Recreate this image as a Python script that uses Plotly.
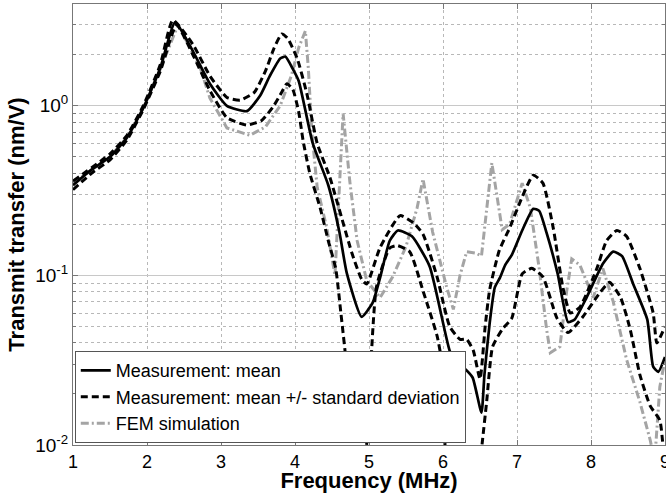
import plotly.graph_objects as go

# ---- data ----
f_mean = [1.0, 1.25, 1.5, 1.73, 1.95, 2.18, 2.38, 2.62, 2.85, 3.08, 3.35, 3.53, 3.66, 3.8, 3.87, 3.97,
          4.05, 4.24, 4.45, 4.6, 4.7, 4.9, 5.05, 5.15, 5.28, 5.39, 5.58, 5.82, 6.09, 6.2, 6.3, 6.4,
          6.52, 6.56, 6.63, 6.7, 6.77, 6.84, 6.93, 7.07, 7.22, 7.3, 7.4, 7.55, 7.69, 7.78, 7.94,
          8.16, 8.3, 8.42, 8.57, 8.76, 8.84, 8.91, 9.0]
mean = [0.34, 0.42, 0.5, 0.65, 0.97, 1.67, 3.1, 2.1, 1.35, 1.0, 0.93, 1.15, 1.5, 1.9, 1.95, 1.65,
        1.4, 0.6, 0.34, 0.18, 0.103, 0.057, 0.069, 0.097, 0.16, 0.184, 0.17, 0.113, 0.036, 0.029, 0.028, 0.025,
        0.0155, 0.026, 0.052, 0.085, 0.097, 0.115, 0.132, 0.184, 0.247, 0.24, 0.178, 0.102, 0.053, 0.055, 0.074,
        0.117, 0.138, 0.13, 0.089, 0.055, 0.029, 0.027, 0.033]

f_upper = [1.0, 1.5, 1.73, 1.95, 2.18, 2.35, 2.62, 2.85, 3.08, 3.26, 3.45, 3.6, 3.72, 3.82, 3.9, 4.03,
           4.16, 4.3, 4.47, 4.77, 4.9, 4.97, 5.15, 5.42, 5.6, 5.73, 5.92, 6.09, 6.23, 6.32, 6.41, 6.5,
           6.57, 6.63, 6.76, 6.9, 7.07, 7.22, 7.35, 7.49, 7.62, 7.72, 7.85, 8.08, 8.21, 8.35, 8.48,
           8.66, 8.84, 8.89, 9.0]
upper = [0.36, 0.52, 0.67, 1.0, 1.75, 3.2, 2.3, 1.5, 1.12, 1.08, 1.2, 1.6, 2.2, 2.65, 2.5, 1.9,
         1.18, 0.6, 0.38, 0.135, 0.095, 0.089, 0.146, 0.225, 0.204, 0.175, 0.098, 0.05, 0.042, 0.042, 0.036, 0.0245,
         0.05, 0.082, 0.14, 0.19, 0.29, 0.39, 0.35, 0.19, 0.085, 0.06, 0.065, 0.11, 0.16, 0.184, 0.17,
         0.11, 0.06, 0.04, 0.05]

f_lower = [1.0, 1.25, 1.5, 1.73, 1.95, 2.18, 2.4, 2.62, 2.85, 3.08, 3.35, 3.55, 3.7, 3.82, 3.89, 3.97,
           4.05, 4.11, 4.2, 4.34, 4.45, 4.55, 4.62, 4.7, 4.78, 4.9, 4.97, 5.1, 5.28, 5.38, 5.55, 5.73,
           5.92, 6.0, 6.1, 6.45, 6.53, 6.59, 6.67, 6.8, 6.93, 7.07, 7.2, 7.35, 7.54, 7.69, 7.89,
           8.12, 8.25, 8.4, 8.53, 8.66, 8.8, 8.93, 8.97, 9.0]
lower = [0.32, 0.4, 0.48, 0.63, 0.95, 1.6, 3.0, 2.0, 1.23, 0.85, 0.77, 0.82, 0.98, 1.2, 1.35, 1.25,
         0.92, 0.62, 0.4, 0.25, 0.16, 0.11, 0.06, 0.028, 0.005, 0.005, 0.0103, 0.085, 0.145, 0.15, 0.138, 0.081,
         0.044, 0.028, 0.005, 0.005, 0.0103, 0.018, 0.038, 0.048, 0.056, 0.102, 0.11, 0.098, 0.056, 0.046, 0.057,
         0.079, 0.091, 0.074, 0.048, 0.026, 0.017, 0.014, 0.0102, 0.007]

f_fem = [1.0, 1.5, 1.73, 1.95, 2.18, 2.42, 2.72, 2.85, 3.08, 3.39, 3.6, 3.8, 3.95, 4.05, 4.14, 4.18,
         4.23, 4.3, 4.43, 4.54, 4.65, 4.74, 4.84, 4.97, 5.15, 5.32, 5.5, 5.65, 5.73, 5.86, 6.05, 6.14,
         6.23, 6.32, 6.45, 6.52, 6.66, 6.8, 6.9, 7.07, 7.18, 7.3, 7.4, 7.45, 7.58, 7.67, 7.74, 7.85,
         8.03, 8.16, 8.3, 8.4, 8.48, 8.66, 8.8, 8.86, 8.93, 9.0]
fem = [0.35, 0.5, 0.65, 0.97, 1.65, 3.0, 1.67, 1.11, 0.74, 0.67, 0.75, 1.0, 1.5, 2.2, 2.76, 1.67,
       0.68, 0.33, 0.19, 0.1, 0.9, 0.36, 0.16, 0.093, 0.074, 0.098, 0.148, 0.25, 0.37, 0.18, 0.085, 0.063,
       0.1, 0.138, 0.135, 0.13, 0.46, 0.186, 0.2, 0.35, 0.25, 0.11, 0.048, 0.035, 0.038, 0.08, 0.125, 0.115,
       0.074, 0.11, 0.07, 0.045, 0.032, 0.018, 0.0107, 0.008, 0.022, 0.032]

x_ticks = [1, 2, 3, 4, 5, 6, 7, 8, 9]
y_ticks = [0.01, 0.1, 1]
y_ticktext = ["10<sup>-2</sup>", "10<sup>-1</sup>", "10<sup>0</sup>"]
y_minor = [m * d for d in (0.01, 0.1, 1) for m in range(2, 10)]

FONT = "Liberation Sans, Arial, sans-serif"

fig = go.Figure()
fig.add_trace(go.Scatter(x=f_fem, y=fem, mode="lines", name="FEM simulation",
                         line=dict(color="#a4a4a4", width=3, dash="8px,3px,2px,3px"),
                         legendrank=3))
fig.add_trace(go.Scatter(x=f_lower, y=lower, mode="lines", showlegend=False,
                         line=dict(color="black", width=3, dash="7px,4px", shape="spline", smoothing=0.5)))
fig.add_trace(go.Scatter(x=f_upper, y=upper, mode="lines", name="Measurement: mean +/- standard deviation",
                         line=dict(color="black", width=3, dash="7px,4px", shape="spline", smoothing=0.5),
                         legendrank=2))
fig.add_trace(go.Scatter(x=f_mean, y=mean, mode="lines", name="Measurement: mean",
                         line=dict(color="black", width=2.7, shape="spline", smoothing=0.5),
                         legendrank=1))

fig.update_layout(
    width=666, height=493,
    margin=dict(l=73, r=1, t=4, b=48, autoexpand=False),
    paper_bgcolor="white", plot_bgcolor="white",
    font=dict(family=FONT, color="black", size=18),
    showlegend=True,
    legend=dict(x=0.003, y=0.004, xanchor="left", yanchor="bottom",
                bgcolor="white", bordercolor="#555", borderwidth=1,
                font=dict(size=18, family=FONT), itemwidth=30, tracegroupgap=0,
                traceorder="normal"),
)
fig.update_xaxes(
    range=[1, 9], tickvals=x_ticks, ticks="inside", ticklen=5, tickcolor="#777",
    showline=True, linecolor="#777", linewidth=1, mirror="ticks",
    showgrid=True, gridcolor="#b8b8b8", griddash="dot", gridwidth=1, zeroline=False,
    ticklabeloverflow="allow",
    title=dict(text="Frequency (MHz)", font=dict(size=22, family=FONT, weight="bold"), standoff=4),
    tickfont=dict(size=18),
)
fig.update_yaxes(
    type="log", range=[-2, 0.6], tickvals=y_ticks, ticktext=y_ticktext,
    ticks="inside", ticklen=5, tickcolor="#777",
    showline=True, linecolor="#777", linewidth=1, mirror="ticks",
    showgrid=True, gridcolor="#c8c8c8", gridwidth=1,
    ticklabeloverflow="allow",
    minor=dict(tickvals=y_minor, showgrid=True, gridcolor="#b8b8b8", griddash="dot",
               ticks="inside", ticklen=3, tickcolor="#777"),
    title=dict(text="Transmit transfer (nm/V)", font=dict(size=22, family=FONT, weight="bold"), standoff=4),
    tickfont=dict(size=19),
)

fig.write_html("out.html")
